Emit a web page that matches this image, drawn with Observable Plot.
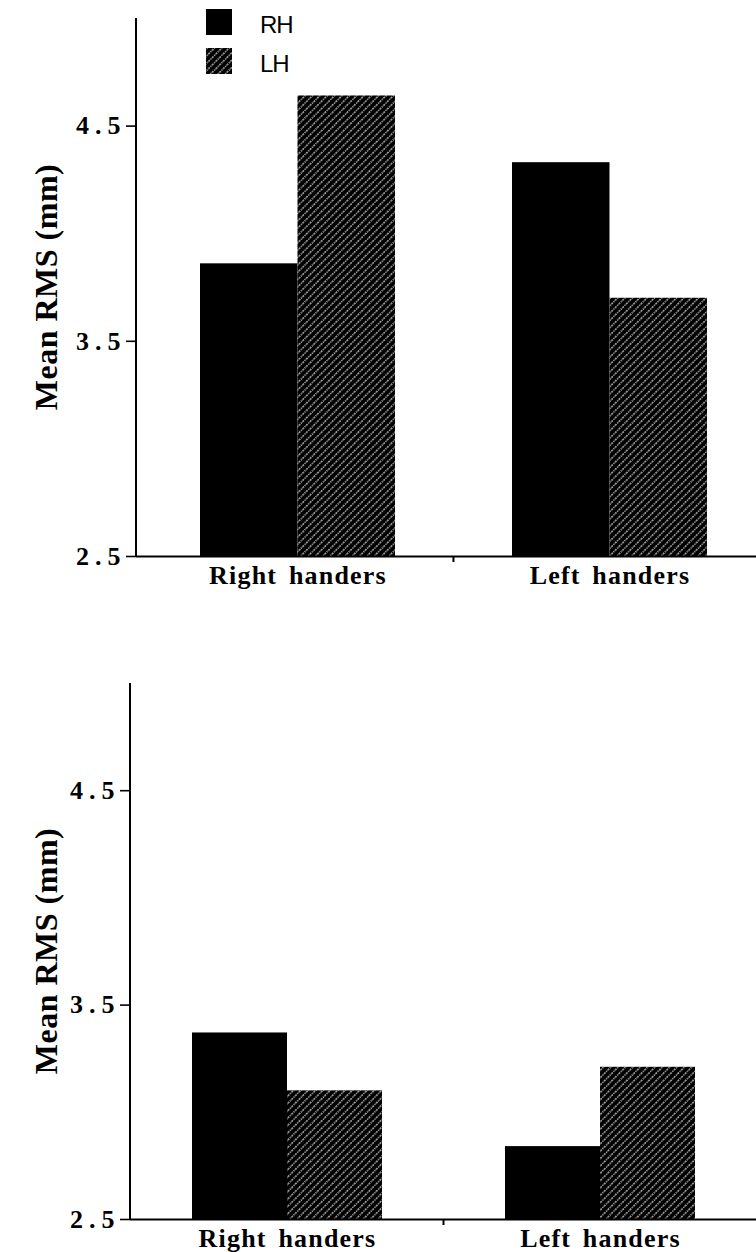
<!DOCTYPE html>
<html>
<head>
<meta charset="utf-8">
<script src="https://cdn.jsdelivr.net/npm/d3@7"></script>
<script src="https://cdn.jsdelivr.net/npm/@observablehq/plot@0.6"></script>
<style>
  html, body { margin: 0; padding: 0; background: #fff; }
  body { width: 756px; height: 1252px; position: relative; overflow: hidden; }
  #charts svg { display: block; overflow: visible; }
  #charts text { font-family: "Liberation Serif", "Times New Roman", serif; font-weight: bold; fill: #000; }
  #charts [aria-label*="y-axis"] text { font-size: 26px !important; letter-spacing: 6px; }
  #charts [aria-label*="x-axis"] text { font-size: 26px !important; letter-spacing: 1.2px; word-spacing: 4px; }
  #charts [aria-label*="y-axis"] line, #charts [aria-label*="y-axis"] path { stroke-width: 1.6; stroke: #000; }
  #charts .ylabel { font-size: 32px; letter-spacing: 0.5px; }
  #legend text { font-family: "Liberation Sans", Arial, sans-serif; font-size: 24px; letter-spacing: -1px; fill: #000; }
</style>
</head>
<body>
<svg width="0" height="0" style="position:absolute">
  <defs>
    <pattern id="hatch" patternUnits="userSpaceOnUse" width="5.2" height="5.2" patternTransform="rotate(45)">
      <rect width="5.2" height="5.2" fill="#000"></rect>
      <line x1="2.6" y1="0" x2="2.6" y2="5.2" stroke="#fff" stroke-width="1" stroke-dasharray="1.3 0.9"></line>
    </pattern>
  </defs>
</svg>
<div id="charts"></div>
<script>
// ---- data ----
const groups = ["Right handers", "Left handers"];
const series = ["RH", "LH"];
const topRH = [3.86, 4.33];
const topLH = [4.64, 3.70];
const bottomRH = [3.37, 2.84];
const bottomLH = [3.10, 3.21];
const yTicks = [2.5, 3.5, 4.5];
const yDomain = [2.5, 5];
const yLabel = "Mean RMS (mm)";
const seriesFills = ["#000", "url(#hatch)"];

const W = 756;

function makeChart(rh, lh, o) {
  const data = groups.flatMap((g, i) => [
    {group: g, series: "RH", value: rh[i]},
    {group: g, series: "LH", value: lh[i]}
  ]);
  const band = d3.scaleBand().domain(groups).range([o.marginLeft, W])
    .paddingInner(o.paddingInner).paddingOuter(o.paddingOuter).align(o.align);
  const bw = band.bandwidth();
  const chart = Plot.plot({
    width: W, height: o.height,
    marginTop: o.marginTop, marginBottom: o.marginBottom,
    marginLeft: o.marginLeft, marginRight: 0,
    x: {type: "band", domain: groups, paddingInner: o.paddingInner, paddingOuter: o.paddingOuter,
        align: o.align, tickSize: 0, tickPadding: 9, label: null},
    y: {domain: yDomain, ticks: yTicks, tickFormat: d3.format(".1f"), tickSize: 10,
        tickPadding: 0, label: null},
    color: {domain: series, range: seriesFills},
    marks: [
      Plot.barY(data.filter(d => d.series === "RH"),
        {x: "group", y1: () => yDomain[0], y2: "value", fill: "series", insetLeft: 0, insetRight: bw / 2}),
      Plot.barY(data.filter(d => d.series === "LH"),
        {x: "group", y1: () => yDomain[0], y2: "value", fill: "series", insetLeft: bw / 2, insetRight: 0}),
      Plot.ruleY([yDomain[0]], {stroke: "#000", strokeWidth: 2})
    ]
  });
  const sel = d3.select(chart);
  const yScale = chart.scale("y");
  const yBase = yScale.apply(yDomain[0]);
  const yTop = yScale.apply(yDomain[1]);
  // y axis line
  sel.append("line").attr("x1", o.marginLeft).attr("x2", o.marginLeft)
    .attr("y1", yTop).attr("y2", yBase + 1).attr("stroke", "#000").attr("stroke-width", 2);
  sel.append("text").attr("class", "ylabel")
    .attr("transform", `translate(57,${(yTop + yBase) / 2}) rotate(-90)`)
    .attr("text-anchor", "middle").text(yLabel);
  const boundary = (band(groups[0]) + bw + band(groups[1])) / 2;
  sel.append("line").attr("x1", boundary).attr("x2", boundary)
    .attr("y1", yBase).attr("y2", yBase + 6).attr("stroke", "#000").attr("stroke-width", 2);
  return chart;
}

const host = document.getElementById("charts");
host.appendChild(makeChart(topRH, topLH, {
  height: 630, marginTop: 18, marginBottom: 74, marginLeft: 136,
  paddingInner: 0.375, paddingOuter: 0.181, align: 0.566
}));
host.appendChild(makeChart(bottomRH, bottomLH, {
  height: 622, marginTop: 53, marginBottom: 33, marginLeft: 130,
  paddingInner: 0.393, paddingOuter: 0.1965, align: 0.504
}));

// legend
const leg = d3.select("body").append("svg").attr("id", "legend")
  .attr("width", 140).attr("height", 85)
  .style("position", "absolute").style("left", "200px").style("top", "0px");
series.forEach((s, i) => {
  leg.append("rect").attr("x", 6).attr("y", 9 + i * 39).attr("width", 26).attr("height", 26)
    .attr("fill", seriesFills[i]);
  leg.append("text").attr("x", 60).attr("y", 33 + i * 39).text(s);
});
</script>
</body>
</html>
